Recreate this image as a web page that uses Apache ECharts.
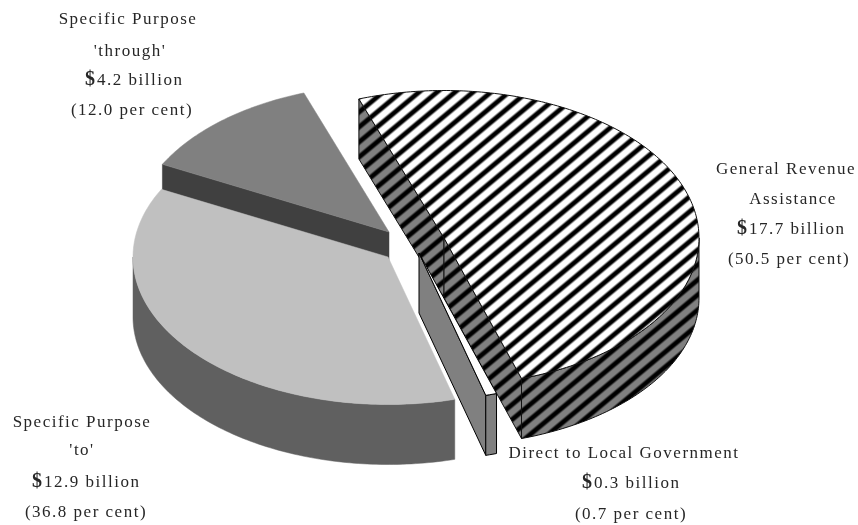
<!DOCTYPE html>
<html>
<head>
<meta charset="utf-8">
<style>html,body{margin:0;padding:0;background:#fff}#chart{width:858px;height:525px}</style>
<script src="https://cdn.jsdelivr.net/npm/echarts@6/dist/echarts.min.js"></script>
</head>
<body>
<div id="chart"></div>
<script>
// Commonwealth payments by type
const categories = ['General Revenue Assistance', 'Direct to Local Government', "Specific Purpose 'to'", "Specific Purpose 'through'"];
const billions = [17.7, 0.3, 12.9, 4.2];
const perCent = [50.5, 0.7, 36.8, 12.0];

// Text blocks printed beside each slice, in the same order as the categories
const nameLines = [['General Revenue', 'Assistance'], ['Direct to Local Government'], ['Specific Purpose', "'to'"], ['Specific Purpose', "'through'"]];

// Pie projection: slices are exploded, each with its own hub
const START_ANGLE = -19.5, RX = 255, RY = 147.5, DEPTH = 60;
const hubs = [[444, 238], [419, 253], [388, 257], [389, 232]];
const paint = [
  { top: 'hatchWhite', side: 'hatchGrey', cut: 'hatchGrey', line: '#111' },
  { top: '#ffffff', side: '#808080', cut: '#808080', line: '#000' },
  { top: '#c0c0c0', side: '#606060', cut: '#606060', line: null },
  { top: '#808080', side: '#606060', cut: '#404040', line: null }
];
const drawOrder = [3, 2, 0, 1];

// Soft diagonal stripes on a seamless tile
function stripeTile(base) {
  const W = 18, H = 15, period = W * H / Math.hypot(W, H);
  const c = document.createElement('canvas');
  c.width = W; c.height = H;
  const g = c.getContext('2d');
  const img = g.createImageData(W, H);
  for (let y = 0; y < H; y++) {
    for (let x = 0; x < W; x++) {
      const f = ((x + 0.5) / W + (y + 0.5) / H + 0.58) % 1;
      const dist = Math.min(f, 1 - f) * period;
      let k = (dist - 1.0) / 2.8;
      k = Math.max(0, Math.min(1, k));
      k = k * k * (3 - 2 * k);
      const v = Math.round(base * k), i = (y * W + x) * 4;
      img.data[i] = img.data[i + 1] = img.data[i + 2] = v;
      img.data[i + 3] = 255;
    }
  }
  g.putImageData(img, 0, 0);
  return { image: c, repeat: 'repeat' };
}
const fills = { hatchWhite: stripeTile(255), hatchGrey: stripeTile(128) };
const fillOf = (name) => fills[name] || name;

// Angular extent of every slice, clockwise from twelve o'clock
const totalShare = perCent.reduce((a, b) => a + b, 0);
let running = START_ANGLE;
const spans = perCent.map((p) => {
  const from = running;
  running += p / totalShare * 360;
  return [from, running];
});

function rimPoint(hub, deg, drop) {
  const t = deg * Math.PI / 180;
  return [hub[0] + RX * Math.sin(t), hub[1] - RY * Math.cos(t) + drop];
}
function arc(hub, a, b, drop) {
  const pts = [], n = Math.max(2, Math.ceil(Math.abs(b - a)));
  for (let i = 0; i <= n; i++) pts.push(rimPoint(hub, a + (b - a) * i / n, drop));
  return pts;
}
function face(points, fill, line, z) {
  return {
    type: 'polygon', shape: { points }, z2: z,
    style: { fill: fillOf(fill), stroke: line || fill, lineWidth: line ? 1 : 0.5 }
  };
}

function renderSlice(params, api) {
  const idx = api.value(0);
  const [a, b] = spans[idx], hub = hubs[idx], look = paint[idx], kids = [];
  const sinA = Math.sin(a * Math.PI / 180), sinB = Math.sin(b * Math.PI / 180);
  const below = [hub[0], hub[1] + DEPTH];

  // Exposed cut faces hang from the two straight edges
  if (sinA < 0) {
    const p = rimPoint(hub, a, 0), q = rimPoint(hub, a, DEPTH);
    kids.push(face([hub, p, q, below], look.cut, look.line, 1));
  }
  if (sinB > 0) {
    const p = rimPoint(hub, b, 0), q = rimPoint(hub, b, DEPTH);
    kids.push(face([hub, p, q, below], look.cut, look.line, 1));
  }
  // Outer wall on the part of the rim that faces the viewer
  const wa = Math.max(a, 90), wb = Math.min(b, 270);
  if (wb > wa) {
    kids.push(face(arc(hub, wa, wb, 0).concat(arc(hub, wb, wa, DEPTH)), look.side, look.line, 2));
  }
  // Top face
  kids.push(face([hub].concat(arc(hub, a, b, 0)), look.top, look.line, 3));
  return { type: 'group', children: kids };
}

// Printed labels
const FONT = '17px "Liberation Serif", serif';
const INK = '#262626';
const nameSlots = [
  [[786, 170], [793, 200]],
  [[624, 454]],
  [[82, 423], [82, 451]],
  [[128, 20], [130, 52]]
];
const amountSlots = [[737, 230], [582, 484], [32, 483], [85, 81]];
const shareSlots = [[789, 260], [631, 515], [86, 513], [132, 111]];

function textEl(text, x, y, align, font) {
  return { type: 'text', silent: true, x, y, style: { text, font: font || FONT, fill: INK, align, verticalAlign: 'middle' } };
}
const labels = [];
categories.forEach((_, i) => {
  nameLines[i].forEach((line, k) => labels.push(textEl(line, nameSlots[i][k][0], nameSlots[i][k][1], 'center')));
  const [ax, ay] = amountSlots[i];
  labels.push(textEl('$', ax, ay - 1, 'left', 'bold 20px "Liberation Serif", serif'));
  labels.push(textEl(billions[i].toFixed(1) + ' billion', ax + 12, ay, 'left'));
  labels.push(textEl('(' + perCent[i].toFixed(1) + ' per cent)', shareSlots[i][0], shareSlots[i][1], 'center'));
});

const chart = echarts.init(document.getElementById('chart'), null, { renderer: 'canvas' });

// Widen the tracking of the serif labels on the main drawing layer
chart.getZr().painter.getLayer(0).ctx.letterSpacing = '1.5px';

chart.setOption({
  animation: false,
  backgroundColor: '#ffffff',
  graphic: { elements: labels },
  series: [{
    type: 'custom',
    coordinateSystem: 'none',
    silent: true,
    renderItem: renderSlice,
    encode: { value: 0 },
    data: drawOrder.map((i) => [i, perCent[i]])
  }]
});
</script>
</body>
</html>
